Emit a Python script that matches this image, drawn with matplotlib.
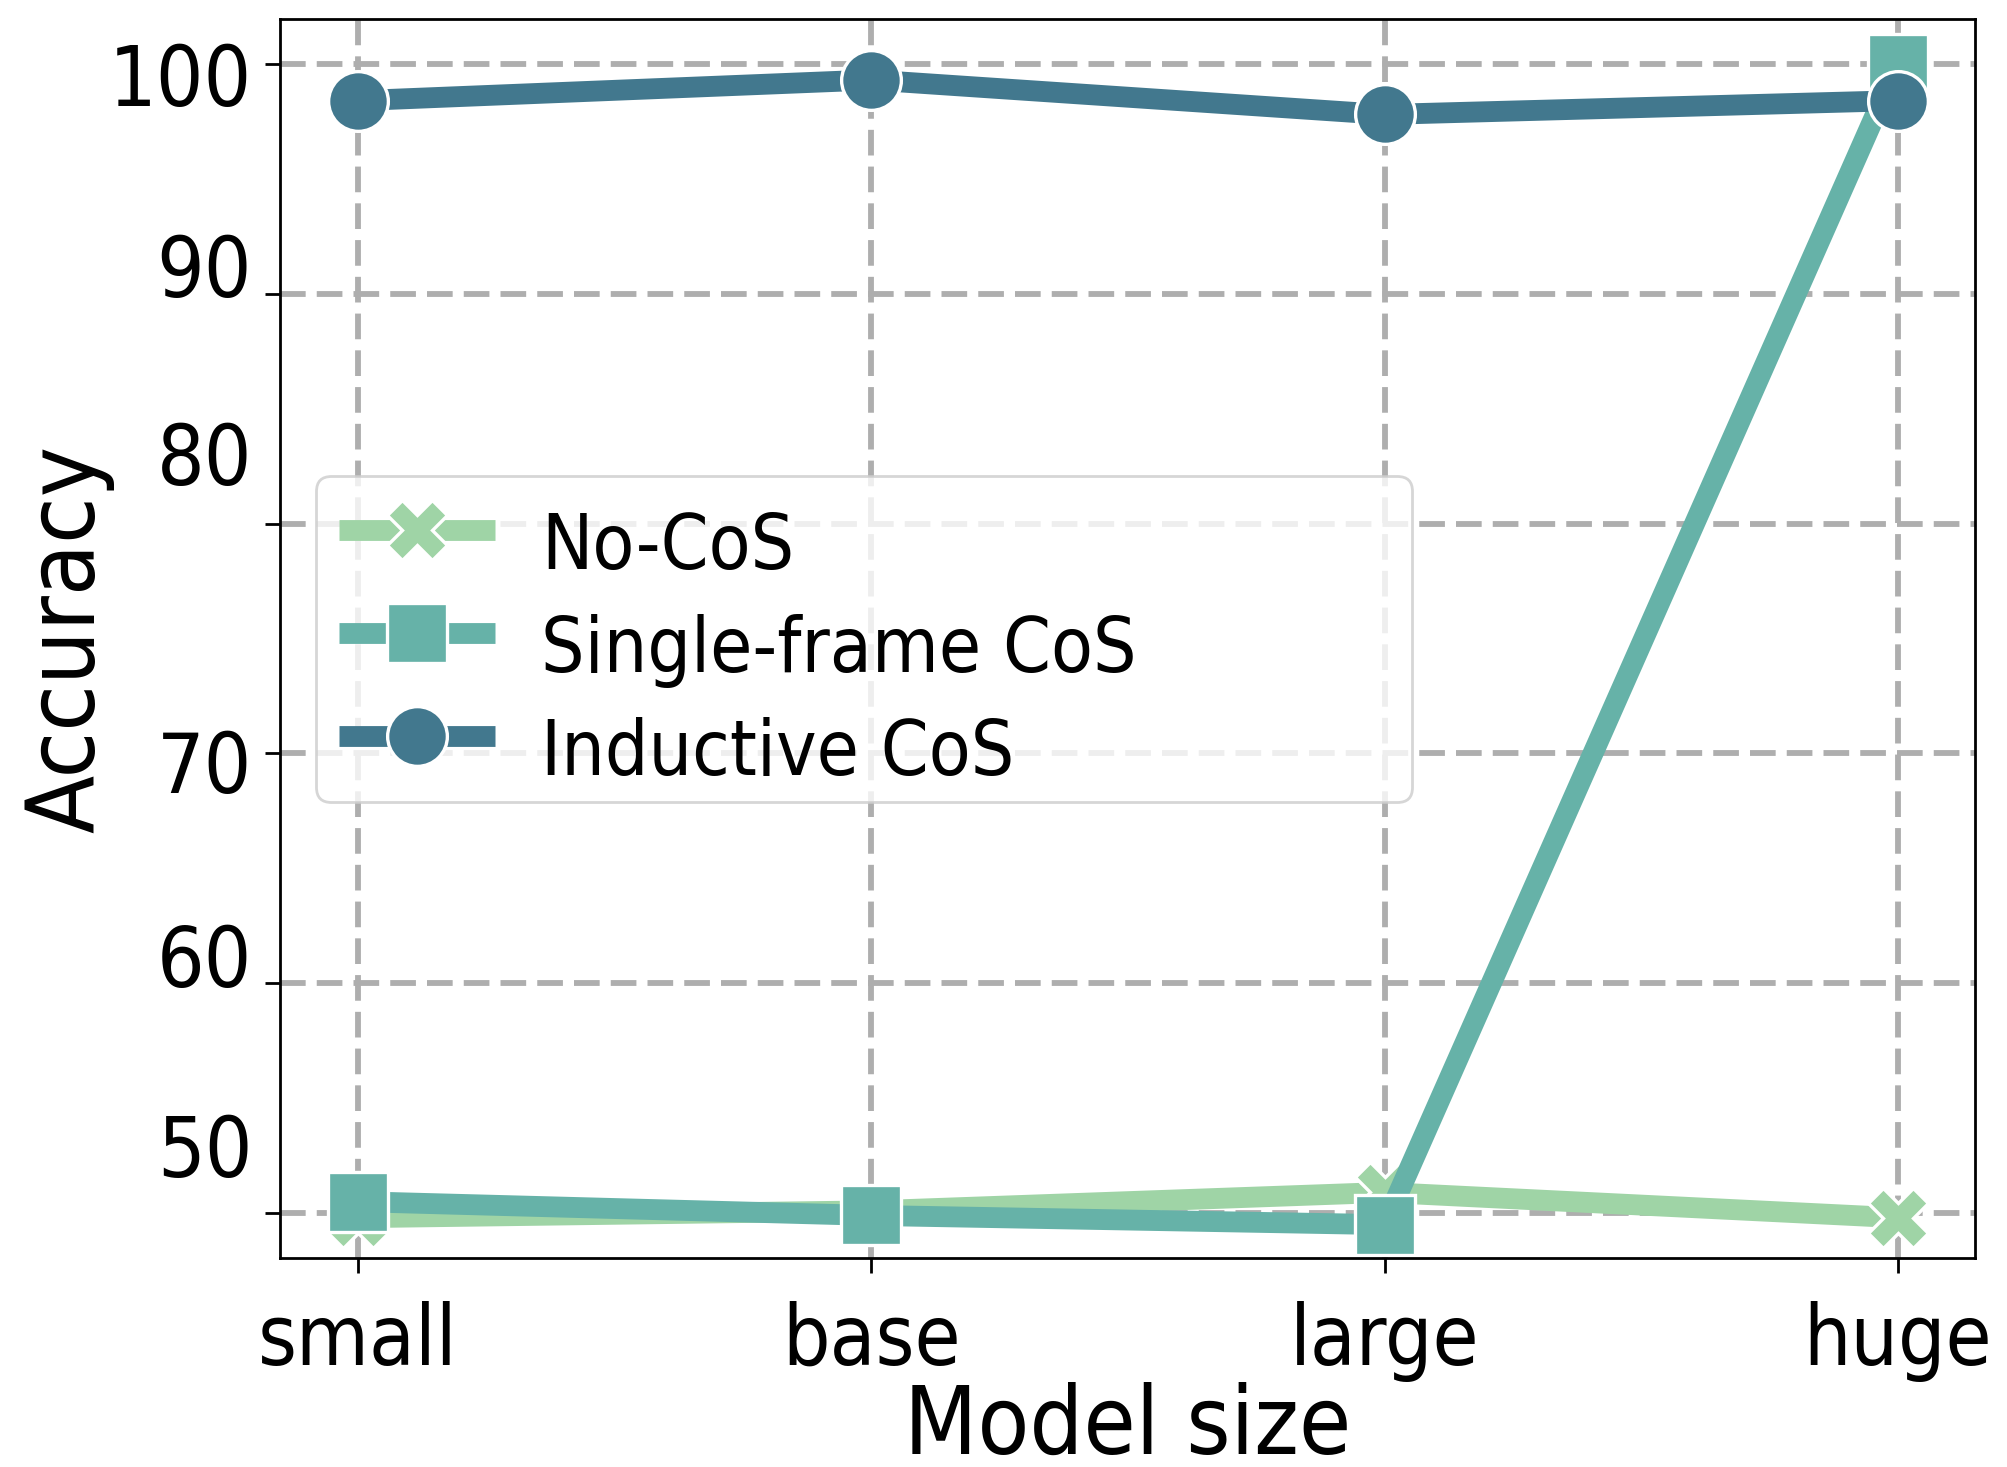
import matplotlib
matplotlib.use("Agg")
import matplotlib.pyplot as plt
import matplotlib.transforms as mtransforms

plt.rcParams["font.family"] = ["DejaVu Sans Condensed", "DejaVu Sans"]
plt.rcParams["font.stretch"] = "condensed"

# Data
model_sizes = ["small", "base", "large", "huge"]
no_cos = [49.8, 50.1, 50.9, 49.8]
single_frame_cos = [50.5, 49.9, 49.5, 100.0]
inductive_cos = [98.4, 99.3, 97.8, 98.4]

series_names = ["No-CoS", "Single-frame CoS", "Inductive CoS"]
series_colors = ["#9fd4a6", "#66b2a8", "#42788e"]
series_markers = ["X", "s", "o"]

y_ticks = [50, 60, 70, 80, 90, 100]
y_tick_labels = ["50", "60", "70", "80", "90", "100"]
y_label_positions = [52.95, 61.25, 69.65, 83.05, 91.25, 99.55]

fig = plt.figure(figsize=(10.035, 7.335), dpi=200)
ax = fig.add_axes([0.1395, 0.1425, 0.8445, 0.8445])

x = list(range(len(model_sizes)))
for name, vals, color, marker in zip(series_names,
                                     [no_cos, single_frame_cos, inductive_cos],
                                     series_colors, series_markers):
    ax.plot(x, vals, color=color, lw=7.5, marker=marker, ms=21.5,
            markeredgecolor="white", markeredgewidth=1.2, label=name,
            solid_capstyle="butt")

ax.set_xlim(-0.152, 3.15)
ax.set_ylim(48.05, 101.95)
ax.set_xticks(x, labels=model_sizes)
ax.set_yticks(y_ticks, labels=[""] * len(y_ticks))
ax.set_yticks(y_label_positions, labels=y_tick_labels, minor=True)

ax.tick_params(axis="y", which="major", length=5.5, width=1.0, color="black")
ax.tick_params(axis="y", which="minor", length=0, pad=10, labelsize=30)
ax.tick_params(axis="x", which="major", length=5.5, width=1.0, color="black",
               pad=10, labelsize=30)

ax.grid(True, which="major", color="#aeaeae", lw=2.1, dashes=(4.4, 1.9))
ax.set_axisbelow(True)
for s in ax.spines.values():
    s.set_color("black")
    s.set_linewidth(1.0)

ax.set_xlabel("Model size", fontsize=34, labelpad=0)
ax.set_ylabel("Accuracy", fontsize=34, labelpad=-2)

leg = ax.legend(loc="upper left",
                bbox_to_anchor=(0.0212, 0.367, 0.6466, 0.264),
                mode="expand", borderaxespad=0, fontsize=27.5,
                handlelength=2.05, handletextpad=0.6, labelspacing=0.38,
                borderpad=0.3, edgecolor="#cccccc", framealpha=0.8)
# nudge the legend labels slightly below their handles
shift = mtransforms.ScaledTranslation(0, -0.06, fig.dpi_scale_trans)
for t in leg.get_texts():
    t.set_transform(t.get_transform() + shift)

fig.savefig("out.png", dpi=200)
